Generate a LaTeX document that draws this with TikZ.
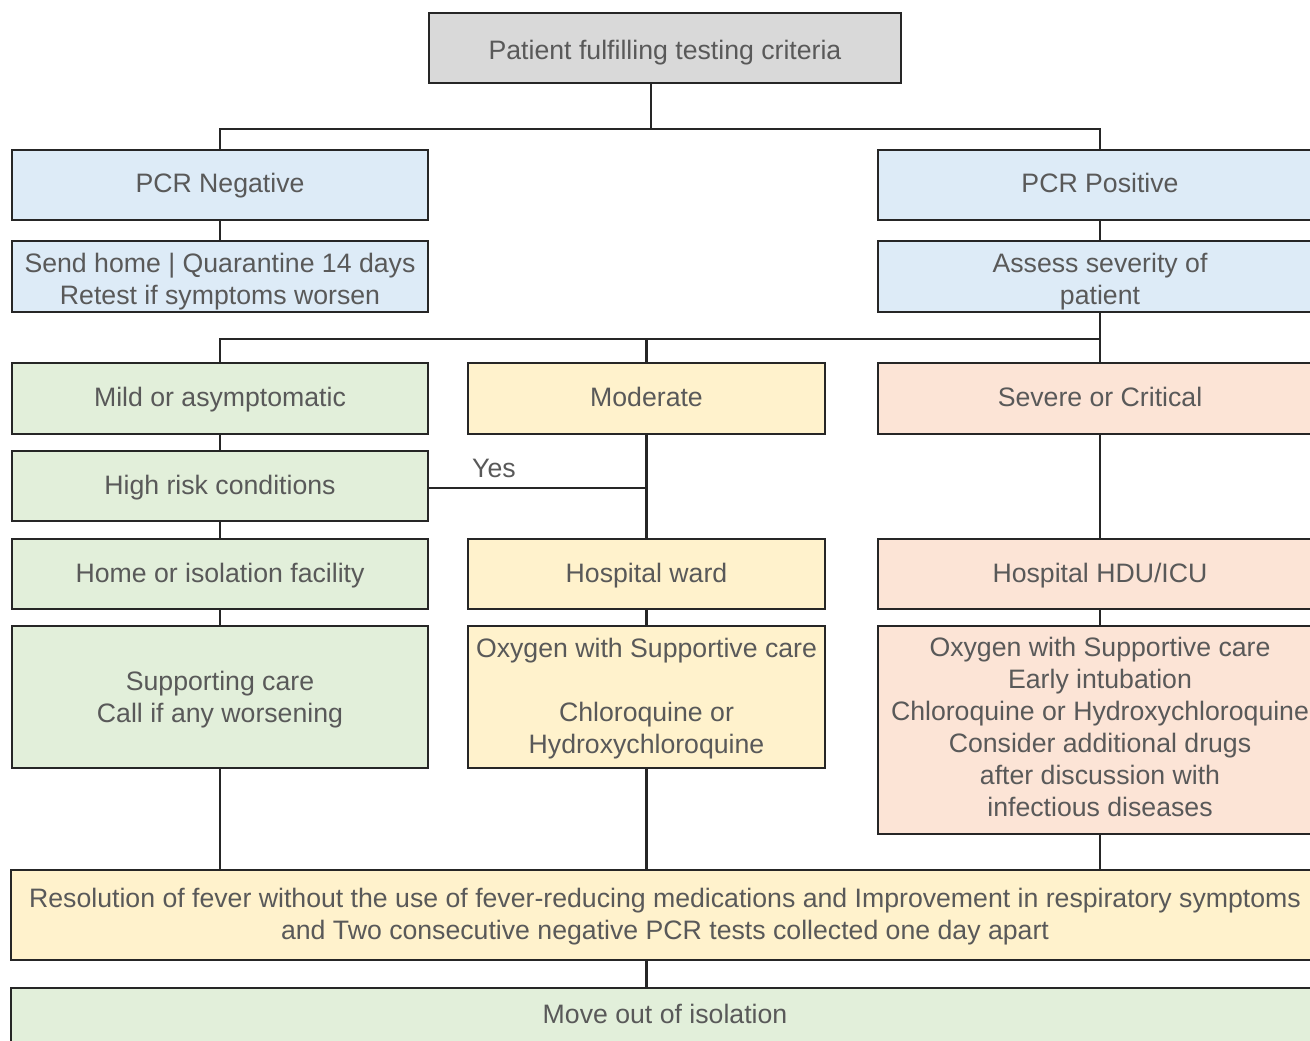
\documentclass[tikz,border=0pt]{standalone}
\usepackage{fontspec}
\setmainfont{Liberation Sans}
\usepackage{xcolor}
\definecolor{boxgrey}{RGB}{217, 217, 217}
\definecolor{boxblue}{RGB}{221, 235, 247}
\definecolor{boxgreen}{RGB}{226, 239, 218}
\definecolor{boxyellow}{RGB}{255, 242, 204}
\definecolor{boxorange}{RGB}{252, 228, 214}
\definecolor{textgrey}{RGB}{89, 89, 89}
\definecolor{darkline}{RGB}{38, 38, 38}
\usepackage{tikz}
\usetikzlibrary{calc}

\begin{document}
\begin{tikzpicture}[x=0.75pt, y=-0.75pt,
    box/.style 2 args={draw=darkline, line width=0.9pt, text=textgrey, align=center,
        inner sep=0pt, minimum width=#1*0.75pt, minimum height=#2*0.75pt,
        font=\fontsize{20}{24}\selectfont,
        execute at begin node={\rule{0pt}{16.2pt}},
        execute at end node={\rule[-4.2pt]{0pt}{4.2pt}}},
    textdrop/.style={execute at begin node={\rule{0pt}{#1}}},
    link/.style={draw=darkline, line width=2pt}]
    \useasboundingbox (0,0) rectangle (1310,1041);
    \clip (0,0) rectangle (1310,1041);

    % testing and PCR result
    \node[box={472}{70}, textdrop=22.2pt, fill=boxgrey] (crit) at (665,48) {Patient fulfilling testing criteria};
    \node[box={416}{70}, fill=boxblue] (neg) at (220,185) {PCR Negative};
    \node[box={444}{70}, fill=boxblue] (pos) at (1100,185) {PCR Positive};
    \node[box={416}{71}, textdrop=46.1pt, fill=boxblue] (sendhome) at (220,276.5) {Send home | Quarantine 14 days\\Retest if symptoms worsen};
    \node[box={444}{71}, textdrop=46.1pt, fill=boxblue] (assess) at (1100,276.5) {Assess severity of\\patient};

    % severity groups
    \node[box={416}{71}, fill=boxgreen] (mild) at (220,398.5) {Mild or asymptomatic};
    \node[box={357}{71}, fill=boxyellow] (moderate) at (646.5,398.5) {Moderate};
    \node[box={444}{71}, fill=boxorange] (severe) at (1100,398.5) {Severe or Critical};
    \node[box={416}{70}, fill=boxgreen] (highrisk) at (220,486) {High risk conditions};

    % place of care
    \node[box={416}{70}, fill=boxgreen] (isolation) at (220,574) {Home or isolation facility};
    \node[box={357}{70}, fill=boxyellow] (ward) at (646.5,574) {Hospital ward};
    \node[box={444}{70}, fill=boxorange] (icu) at (1100,574) {Hospital HDU/ICU};

    % treatment
    \node[box={416}{142}, textdrop=43.1pt, fill=boxgreen] (supcare) at (220,697) {Supporting care\\Call if any worsening};
    \node[box={357}{142}, textdrop=89.6pt, fill=boxyellow] (oxyward) at (646.5,697) {Oxygen with Supportive care\\[24pt]Chloroquine or\\Hydroxychloroquine};
    \node[box={444}{208}, fill=boxorange] (oxyicu) at (1100,730) {Oxygen with Supportive care\\Early intubation\\Chloroquine or Hydroxychloroquine\\Consider additional drugs\\after discussion with\\infectious diseases};

    % discharge
    \node[box={1308}{90}, textdrop=41.6pt, fill=boxyellow] (resolve) at (665,915) {Resolution of fever without the use of fever-reducing medications and Improvement in respiratory symptoms\\and Two consecutive negative PCR tests collected one day apart};
    \node[box={1308}{54}, fill=boxgreen] (moveout) at (665,1015) {Move out of isolation};

    % connectors
    \coordinate (split1) at (651,129);
    \coordinate (split2) at (1100,339);
    \draw[link] (split1 |- crit.south) -- (split1);
    \draw[link] (neg.north) |- (split1) -| (pos.north);
    \draw[link] (neg) -- (sendhome);
    \draw[link] (pos) -- (assess);
    \draw[link] (assess.south) -- (split2) -| (mild.north);
    \draw[link] (moderate.north) |- (split2);
    \draw[link] (split2) -- (severe.north);
    \draw[link] (mild) -- (highrisk);
    \draw[link] ([yshift=-1.5pt]highrisk.east) -| node[pos=0.15, above=3pt, text=textgrey, font=\fontsize{20}{24}\selectfont] {Yes} (ward.north);
    \draw[link] (moderate) -- (ward);
    \draw[link] (severe) -- (icu);
    \draw[link] (highrisk) -- (isolation);
    \draw[link] (isolation) -- (supcare);
    \draw[link] (ward) -- (oxyward);
    \draw[link] (icu) -- (oxyicu);
    \draw[link] (supcare.south) -- (supcare.south |- resolve.north);
    \draw[link] (oxyward.south) -- (oxyward.south |- resolve.north);
    \draw[link] (oxyicu.south) -- (oxyicu.south |- resolve.north);
    \draw[link] (oxyward.south |- resolve.south) -- (oxyward.south |- moveout.north);
\end{tikzpicture}
\end{document}
